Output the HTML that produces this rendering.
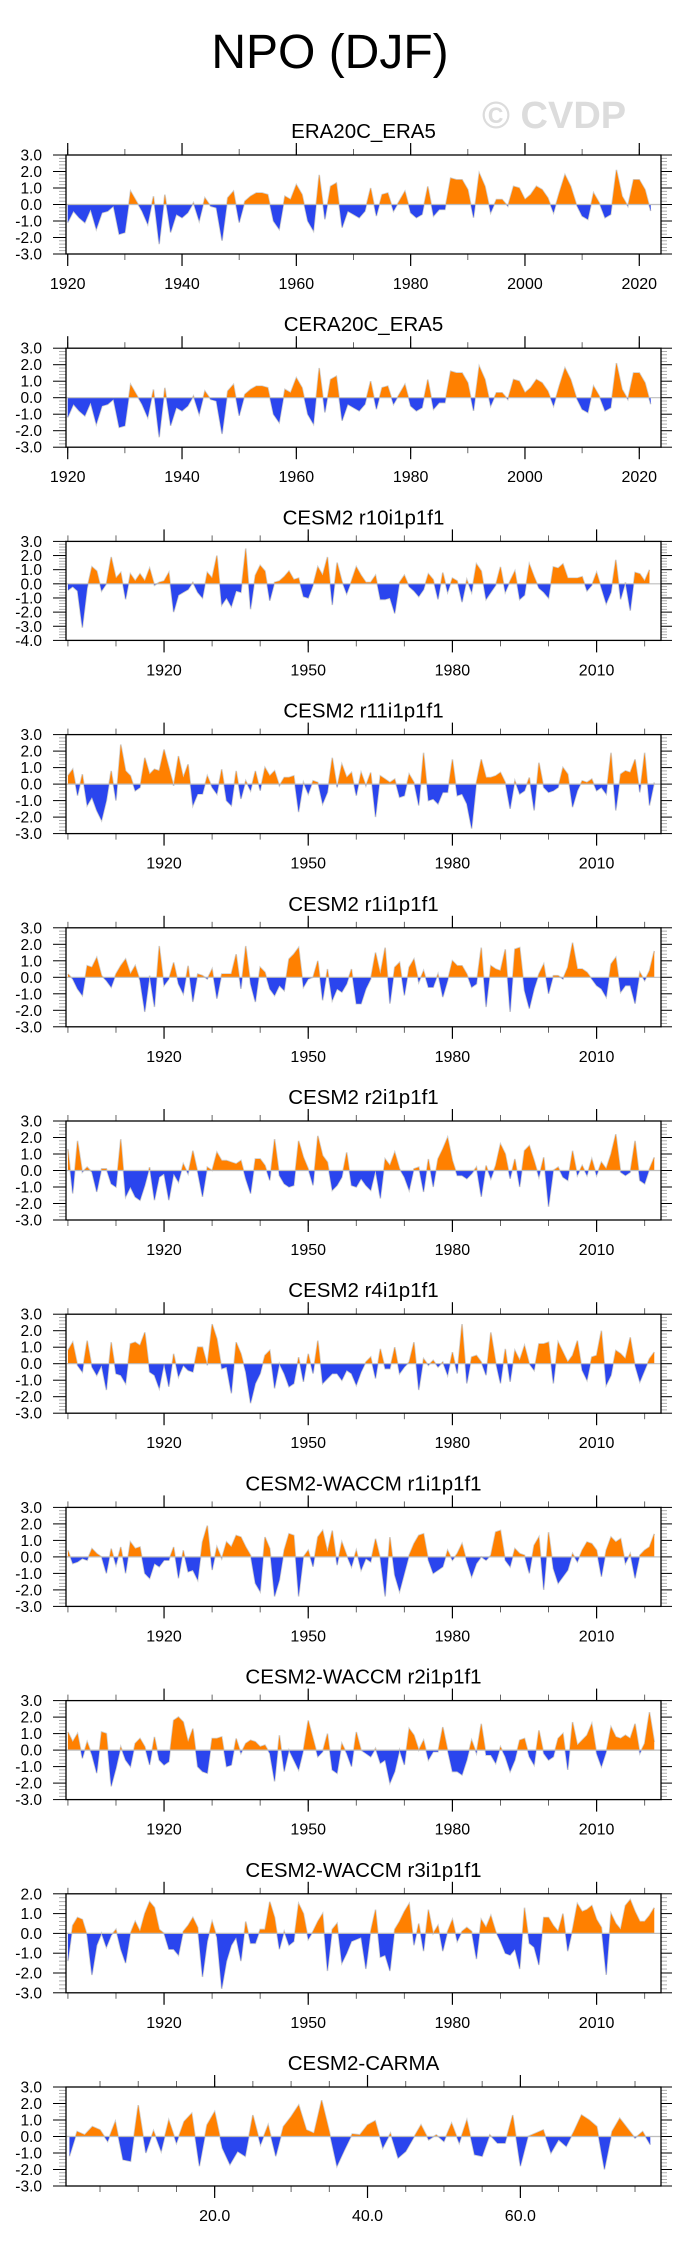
<!DOCTYPE html>
<html><head><meta charset="utf-8"><title>NPO (DJF)</title>
<style>
html,body{margin:0;padding:0;background:#fff;}
svg{display:block;font-family:"Liberation Sans",Arial,sans-serif;}
</style></head>
<body>
<svg id="chart" width="684" height="2251" viewBox="0 0 684 2251" xmlns="http://www.w3.org/2000/svg">
<text x="330" y="68" font-size="48" text-anchor="middle" fill="#000">NPO (DJF)</text>
<text x="482" y="128" font-size="38" font-weight="bold" fill="#dcdcdc">© CVDP</text>
</svg>
<script>
const era20cValues=[-1.1,-0.4,-0.8,-1.1,-0.3,-1.5,-0.5,-0.4,-0.1,-1.8,-1.7,0.8,0.2,-0.4,-1.2,0.5,-2.4,0.6,-1.7,-0.6,-0.8,-0.5,0.1,-1.0,0.4,-0.1,-0.2,-2.2,0.4,0.8,-1.1,0.2,0.5,0.7,0.7,0.6,-1.0,-1.5,0.5,0.3,1.2,0.6,-1.0,-1.6,1.8,-0.9,1.1,1.3,-1.4,-0.4,-0.6,-0.8,-0.4,1.0,-0.7,0.6,0.7,-0.4,0.2,0.8,-0.5,-0.8,-0.6,1.1,-0.7,-0.3,-0.3,1.6,1.5,1.5,0.9,-0.8,1.9,1.1,-0.5,0.3,0.3,-0.1,1.1,1.0,0.3,0.6,1.1,0.9,0.4,-0.5,0.7,1.8,1.1,0.0,-0.7,-0.9,0.7,0.1,-0.8,-0.6,2.1,0.5,-0.1,1.5,1.5,0.9,-0.4];
const cera20cValues=[-1.2,-0.4,-0.8,-1.1,-0.3,-1.6,-0.5,-0.4,-0.1,-1.8,-1.7,0.8,0.2,-0.4,-1.2,0.5,-2.4,0.6,-1.7,-0.6,-0.8,-0.5,0.1,-1.0,0.4,-0.1,-0.2,-2.2,0.4,0.8,-1.1,0.2,0.5,0.7,0.7,0.6,-1.0,-1.5,0.5,0.3,1.2,0.6,-1.0,-1.6,1.8,-0.9,1.1,1.3,-1.4,-0.4,-0.6,-0.8,-0.4,1.0,-0.7,0.6,0.7,-0.4,0.2,0.8,-0.5,-0.8,-0.6,1.1,-0.7,-0.3,-0.3,1.6,1.5,1.5,0.9,-0.8,1.9,1.1,-0.5,0.3,0.3,-0.1,1.1,1.0,0.3,0.6,1.1,0.9,0.4,-0.5,0.7,1.8,1.1,0.0,-0.7,-0.9,0.7,0.1,-0.8,-0.6,2.1,0.5,-0.1,1.5,1.5,0.9,-0.4];
const r10Values=[-0.45,-0.2,-0.5,-3.1,-0.3,1.2,0.9,-0.5,0,1.9,0.4,0.8,-1.1,0.7,0.2,0.7,0.2,1.1,-0.1,0.1,0.2,0.8,-2.0,-0.8,-0.6,-0.4,0.1,-0.6,-1.0,0.8,0.4,2.0,-1.5,-1.0,-1.6,-0.5,-0.6,2.5,-1.8,0.6,1.3,0.9,-1.2,0.1,0.2,0.5,0.9,0.3,0.4,-0.9,-1.0,-0.1,1.2,0.6,1.9,-1.5,1.5,0.2,-0.7,0.2,1.2,0.6,0.1,0.1,0.6,-1.1,-1.1,-1.0,-2.1,0.1,0.6,-0.2,-0.5,-0.9,-0.4,0.7,0.3,-1.1,0.8,-0.6,0.4,0.2,-1.3,0.3,-0.6,1.4,0.9,-1.1,-0.6,-0.1,1.2,-0.6,0.2,0.9,-1.1,-0.8,1.4,0.5,-0.3,-0.6,-1.0,1.2,1.1,1.4,0.4,0.4,0.4,0.5,-0.5,-0.1,0.8,-0.3,-1.4,-0.6,1.7,-1.1,0.1,-1.9,0.8,0.7,0.2,1.0];
const r11Values=[0.5,0.9,-0.7,0.6,-1.3,-0.8,-1.6,-2.2,-1.0,0.8,-1.0,2.4,0.8,0.5,-0.4,-0.2,1.6,0.6,0.9,0.8,2.1,1.0,-0.1,1.7,0.4,1.2,-1.3,-0.6,-0.6,0.5,-0.2,-0.6,0.9,-1.0,-1.3,0.8,-0.9,0.2,-0.4,0.8,-0.4,1.0,0.5,0.8,-0.1,0.4,0.4,0.5,-1.7,0.1,-0.6,0.2,0.1,-1.2,-0.5,1.6,-0.2,1.2,0.4,0.7,-0.7,0.7,-0.1,0.7,-2.0,0.5,0.3,0.1,0.3,-0.8,-0.7,0.6,0.1,-1.3,1.9,-1.0,-0.9,-1.2,-0.5,-0.5,1.5,-0.7,-0.6,-1.2,-2.7,0.1,1.5,0.4,0.4,0.5,0.7,0.1,-1.5,0.2,-0.6,-0.4,0.4,-1.6,1.3,-0.2,-0.5,-0.4,-0.2,1.0,0.6,-1.4,-0.4,0.2,0.1,0.3,-0.4,-0.2,-0.6,1.9,-1.6,0.6,0.8,0.7,1.5,-0.5,1.9,-1.3,0.1];
const r1Values=[0.2,-0.1,-0.7,-1.1,0.7,0.6,1.2,0.1,-0.2,-0.6,0.2,0.7,1.1,0.2,0.7,-0.2,-2.1,0.1,-1.8,1.9,-0.5,-0.1,0.9,-0.4,-1.0,0.7,-1.5,0.2,0.1,-0.1,0.5,-1.3,0.2,0.2,0.2,1.4,-0.7,1.9,-0.4,-1.5,0.6,0.3,-0.7,-1.1,-0.5,-0.8,1.1,1.4,1.8,-0.6,-0.1,0.0,1.0,-1.4,0.5,-1.4,-0.7,-0.9,-0.4,0.5,-1.6,-1.6,-0.7,-0.1,1.5,0.2,1.8,-1.6,0.6,0.9,-1.1,0.6,1.1,-0.3,0.4,-0.6,-0.6,0.2,-1.2,-0.2,1.0,0.7,0.7,0.2,-0.6,-0.4,1.8,-1.8,0.7,0.5,0.4,1.7,-2.1,1.7,1.8,-0.8,-1.9,-0.7,0.2,0.8,-1.0,0.1,0.1,-0.1,0.6,2.1,0.5,0.5,0.3,-0.1,-0.5,-0.7,-1.2,0.8,1.2,-0.9,-0.5,-0.5,-1.6,0.3,-0.2,0.4,1.6];
const r2Values=[1.3,-1.4,1.8,-0.1,0.2,-0.1,-1.3,0.1,0.1,-0.8,-1.0,1.9,-1.6,-1.0,-1.6,-1.8,-0.9,0.2,-1.8,-0.4,-0.2,-1.8,-0.2,-0.7,0.4,-0.2,1.2,-0.1,-1.6,0.2,0.0,1.1,0.6,0.6,0.5,0.4,0.6,-0.5,-1.4,0.7,0.7,0.3,-0.6,1.9,-0.3,-0.8,-1.0,-0.9,1.8,0.8,0.1,-0.9,2.1,0.9,0.5,-1.2,-0.9,-0.4,1.1,-0.9,-1.0,-0.5,-0.9,-1.2,0.0,-1.7,0.7,0.3,1.1,0.1,-0.4,-1.2,0.1,0.2,-1.3,0.7,-1.0,0.7,1.3,2.0,0.6,-0.3,-0.3,-0.5,-0.2,0.2,-1.6,0.3,-0.5,0.3,1.6,1.0,-0.5,0.7,-1.0,1.2,1.5,0.6,-0.4,0.8,-2.2,0.0,0.2,-0.4,-0.6,1.2,-0.3,0.3,-0.3,0.7,-0.3,0.5,0.1,1.0,2.2,-0.1,-0.3,-0.1,1.8,-0.6,-0.8,0.1,0.8];
const r4Values=[0.8,1.3,-0.1,-0.5,1.4,-0.2,-0.7,-0.1,-1.6,1.3,-0.6,-0.7,-1.2,1.2,1.3,1.1,1.9,-0.5,-0.7,-1.5,0.0,-1.4,0.6,-0.8,-0.1,-0.4,-0.5,1.0,1.0,-0.1,2.4,1.5,-0.3,-0.2,-1.8,1.3,0.6,-0.5,-2.4,-1.2,-0.6,0.5,0.8,-1.5,0.0,-0.6,-1.4,-1.2,0.4,-1.1,0.6,-0.6,1.4,-1.2,-0.9,-0.6,-0.6,-1.0,-0.4,-0.6,-1.3,-0.5,0.1,0.4,-0.9,0.9,-0.3,-0.3,1.0,-0.6,-0.2,0.1,1.3,-1.6,0.3,-0.1,0.2,-0.2,0.1,-0.7,0.7,-0.6,2.4,-1.2,0.4,0.5,0.1,-0.7,1.9,0.1,-1.2,0.9,-1.1,0.8,0.2,1.1,0.0,-0.4,1.2,1.2,1.3,-1.2,1.3,0.7,0.1,0.5,1.4,-0.4,-1.0,0.4,0.5,2.0,-1.3,-0.7,0.8,0.6,0.3,1.6,-0.1,-1.1,-0.4,0.3,0.7];
const waccmR1Values=[0.4,-0.4,-0.3,-0.1,-0.2,0.5,0.2,0.0,-1.0,0.5,-0.5,0.6,-1.0,0.9,0.5,0.6,-1.0,-1.3,-0.4,-0.6,-0.2,-0.2,0.6,-1.3,0.4,-0.9,-0.8,-1.4,0.9,1.9,-0.8,0.6,-0.1,0.9,0.6,1.3,1.2,0.6,0.1,-1.6,-2.1,1.2,0.5,-2.4,-1.4,0.4,1.4,1.3,-2.4,0.0,0.4,-0.6,1.2,1.6,0.3,1.6,-0.5,0.9,0.1,-0.6,0.4,-0.8,-0.1,-0.3,1.1,-0.1,-2.4,1.2,-1.1,-2.1,-1.0,0.1,0.8,1.3,1.4,-0.2,-1.0,-0.8,-0.6,0.4,-0.2,0.2,0.8,-0.3,-1.2,-0.4,0.0,-0.2,0.1,1.5,1.6,-0.2,-0.6,0.5,0.2,0.1,-1.0,0.7,1.2,-2.0,1.5,-0.7,-1.6,-1.2,-0.8,0.2,-0.3,0.4,0.9,0.8,0.4,-1.2,0.4,1.2,0.9,1.1,-0.4,0.2,-1.3,0.1,0.4,0.6,1.4];
const waccmR2Values=[1.1,0.5,1.0,-0.5,0.5,-0.3,-1.4,1.1,1.0,-2.2,-1.1,0.2,-0.6,-1.0,0.4,0.7,0.2,-0.9,0.8,-0.6,-0.9,-0.7,1.8,2.0,1.7,0.5,1.3,-1.0,-1.3,-1.4,0.7,0.7,0.8,-1.0,-0.9,0.7,-0.2,0.4,0.6,0.5,0.2,0.3,-0.2,-1.9,0.9,-1.3,0.0,-0.6,-1.2,0.0,1.8,0.7,-0.4,-0.1,1.0,-1.2,-1.4,0.4,-0.2,-1.0,1.1,0.0,-0.2,-0.4,0.1,-0.8,-0.6,-2.0,-1.3,0.0,-0.9,1.3,0.9,0.0,0.6,-0.6,-0.1,-0.1,1.4,0.0,-1.3,-1.3,-1.5,-0.6,0.6,-0.2,1.6,-0.3,-0.3,-0.8,0.2,-0.4,-1.3,-0.6,0.6,0.7,-0.4,-0.9,1.2,-0.2,-0.6,-0.4,0.7,1.0,-1.2,1.7,0.3,0.6,0.9,1.6,-0.2,-1.0,-0.1,1.4,0.8,0.7,0.9,0.7,1.6,-0.2,0.4,2.3,0.5];
const waccmR3Values=[-1.4,0.4,0.8,0.7,-0.1,-2.1,-0.6,0.0,-0.7,-0.1,0.2,-0.8,-1.5,0.0,0.6,0.1,1.0,1.6,1.3,0.2,0.0,-0.8,-0.8,-1.1,0.1,0.4,0.8,0.3,-2.2,-0.4,0.6,-0.2,-2.8,-1.4,-0.6,-0.2,-1.4,0.6,-0.5,-0.5,0.2,0.2,1.6,0.8,-0.8,0.1,-0.6,-0.4,1.5,1.0,-0.3,0.1,0.6,1.0,-1.9,0.2,0.5,-1.5,-1.0,-0.4,-0.3,-0.2,-1.8,0.1,1.2,-1.2,-1.1,-1.9,0.2,0.6,1.1,1.5,-0.6,0.5,-0.9,1.2,0.0,0.4,-0.9,0.1,0.7,-0.4,0.1,0.3,0.1,-1.3,0.7,0.3,0.9,0.1,-0.4,-1.0,-1.1,-0.8,-1.8,1.3,-0.5,-0.7,-1.6,0.8,0.8,0.4,0.1,1.0,-0.9,0.2,1.5,1.1,1.2,1.4,0.7,0.3,-2.1,1.0,0.5,0.2,1.4,1.7,1.1,0.6,0.6,0.9,1.3];
const carmaValues=[-1.2,0.3,0.1,0.6,0.4,-0.3,0.9,-1.4,-1.5,1.9,-1.0,0.35,-0.9,1.0,-0.4,0.9,1.4,-1.8,0.7,1.5,-0.7,-1.7,-0.9,-1.2,1.3,-0.5,0.7,-1.2,0.6,1.2,1.9,0.4,0.2,2.2,0.3,-1.8,-0.8,0.15,0.1,0.7,0.95,-0.7,0.2,-1.3,-0.9,-0.1,0.7,-0.2,0.1,-0.3,0.8,-0.4,1.0,-1.1,-1.2,0.1,-0.4,-0.4,1.3,-1.8,0.0,0.2,0.4,-1.0,-0.2,-0.6,0.3,1.3,1.0,0.6,-2.0,0.3,1.1,0.5,-0.1,0.3,-0.5];
const panelTitles=["ERA20C_ERA5","CERA20C_ERA5","CESM2 r10i1p1f1","CESM2 r11i1p1f1","CESM2 r1i1p1f1","CESM2 r2i1p1f1","CESM2 r4i1p1f1","CESM2-WACCM r1i1p1f1","CESM2-WACCM r2i1p1f1","CESM2-WACCM r3i1p1f1","CESM2-CARMA"];
const panelSeries=[era20cValues,cera20cValues,r10Values,r11Values,r1Values,r2Values,r4Values,waccmR1Values,waccmR2Values,waccmR3Values,carmaValues];
const panelStart=[1920,1920,1900,1900,1900,1900,1900,1900,1900,1900,1];
const panelYMax=[3,3,3,3,3,3,3,3,3,2,3];
const panelYMin=[-3,-3,-4,-3,-3,-3,-3,-3,-3,-3,-3];
const eraTicks=[1920,1940,1960,1980,2000,2020];
const cesmTicks=[1920,1950,1980,2010];
const carmaTicks=[20,40,60];
const carmaTickLabels=["20.0","40.0","60.0"];

const NS="http://www.w3.org/2000/svg";
const svg=document.getElementById('chart');
function mk(tag,attrs,parent){const e=document.createElementNS(NS,tag);for(const k in attrs)e.setAttribute(k,attrs[k]);(parent||svg).appendChild(e);return e;}

const L=66,R=661,H=99;
panelTitles.forEach((title,p)=>{
  const top=155+193.2*p, bot=top+H;
  const vals=panelSeries[p], start=panelStart[p];
  let x0,x1,majors,labels,minorStep,minorStart,minorEnd;
  if(p<2){x0=1919.7;x1=2023.8;majors=eraTicks;labels=eraTicks.map(String);minorStep=10;minorStart=1920;minorEnd=2020;}
  else if(p<10){x0=1899.6;x1=2023.4;majors=cesmTicks;labels=cesmTicks.map(String);minorStep=10;minorStart=1900;minorEnd=2020;}
  else{x0=0.55;x1=78.4;majors=carmaTicks;labels=carmaTickLabels;minorStep=5;minorStart=5;minorEnd=75;}
  const ymax=panelYMax[p], ymin=panelYMin[p];
  const xs=v=>L+(v-x0)/(x1-x0)*(R-L);
  const ys=v=>top+(ymax-v)/(ymax-ymin)*H;
  const g=mk('g',{});
  
  
  const t=mk('text',{x:(L+R)/2,y:top-17,'font-size':20.5,'text-anchor':'middle'},g);
  t.textContent=title;
  
  
  const cid='clip'+p;
  const defs=mk('defs',{},g);
  const cu=mk('clipPath',{id:cid+'u'},defs);mk('rect',{x:L,y:top,width:R-L,height:ys(0)-top},cu);
  const cd=mk('clipPath',{id:cid+'d'},defs);mk('rect',{x:L,y:ys(0),width:R-L,height:bot-ys(0)},cd);
  let pts=vals.map((v,i)=>xs(start+i).toFixed(2)+','+ys(v).toFixed(2));
  const z=ys(0).toFixed(2);
  const area='M'+xs(start).toFixed(2)+','+z+' L'+pts.join(' L')+' L'+xs(start+vals.length-1).toFixed(2)+','+z+' Z';
  const line=mk('polyline',{points:pts.join(' '),fill:'none',stroke:'#cfcfcf','stroke-width':1.6},g);
  
  
  const pos=mk('path',{d:area,fill:'#ff8000','clip-path':'url(#'+cid+'u)'},g);
  
  
  const neg=mk('path',{d:area,fill:'#2a45ee','clip-path':'url(#'+cid+'d)'},g);
  
  
  const zl=mk('line',{x1:L,x2:R,y1:z,y2:z,stroke:'#bdbdbd','stroke-width':1.2},g);
  
  
  for(let v=ymin;v<=ymax+1e-6;v+=0.2){
    const yy=ys(v), major=Math.abs(v-Math.round(v))<1e-6;
    if(major){
      mk('line',{x1:L-13,x2:L,y1:yy,y2:yy,stroke:'#000','stroke-width':1},g);
      mk('line',{x1:R,x2:R+11,y1:yy,y2:yy,stroke:'#000','stroke-width':1},g);
      const lb=mk('text',{x:42,y:yy+5.5,'font-size':15.5,'text-anchor':'end'},g);
      lb.textContent=Math.round(v).toFixed(1);
      
      
    }else{
      mk('line',{x1:L-7,x2:L,y1:yy,y2:yy,stroke:'#999','stroke-width':0.8},g);
      mk('line',{x1:R,x2:R+6,y1:yy,y2:yy,stroke:'#999','stroke-width':0.8},g);
    }
  }
  for(let v=minorStart;v<=minorEnd+1e-6;v+=minorStep){
    const xx=xs(v);
    mk('line',{x1:xx,x2:xx,y1:top-6,y2:top,stroke:'#555','stroke-width':0.9},g);
    mk('line',{x1:xx,x2:xx,y1:bot,y2:bot+6,stroke:'#555','stroke-width':0.9},g);
  }
  majors.forEach((v,i)=>{
    const xx=xs(v);
    mk('line',{x1:xx,x2:xx,y1:top-12,y2:top,stroke:'#000','stroke-width':1.2},g);
    mk('line',{x1:xx,x2:xx,y1:bot,y2:bot+12,stroke:'#000','stroke-width':1.2},g);
    const lb=mk('text',{x:xx,y:bot+35,'font-size':16,'text-anchor':'middle'},g);
    lb.textContent=labels[i];
    
    
  });
  const fr=mk('rect',{x:L,y:top,width:R-L,height:H,fill:'none',stroke:'#000','stroke-width':1.3},g);
  
  
});
</script>
</body></html>
